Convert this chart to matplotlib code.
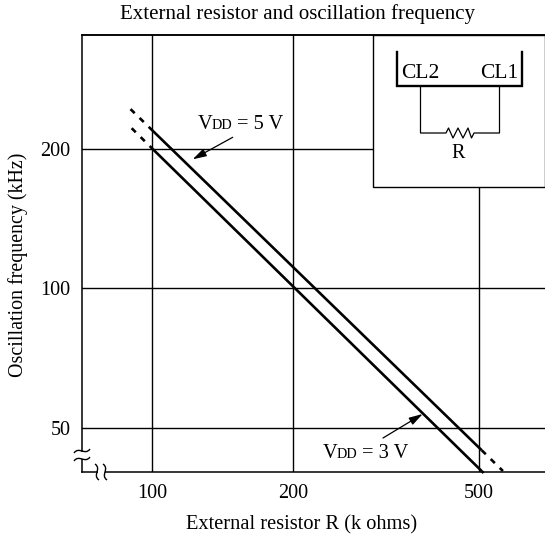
import matplotlib
matplotlib.use('Agg')
import matplotlib.pyplot as plt
from matplotlib.path import Path
from matplotlib.patches import PathPatch, Rectangle

plt.rcParams['font.family'] = ['Liberation Serif', 'DejaVu Serif']

# values (log-log)
x_ticks = [100, 200, 500]
y_ticks = [50, 100, 200]
r_5v = [100.3, 507]
f_5v = [219, 44.8]
r_5v_dash1 = [90, 100.3]
f_5v_dash1 = [243.6, 219]
r_5v_dash2 = [507, 563]
f_5v_dash2 = [44.8, 40.4]
r_3v = [100.3, 507]
f_3v = [200, 40.4]
r_3v_dash1 = [90.5, 100.3]
f_3v_dash1 = [221.6, 200]
r_3v_dash2 = [507, 512]
f_3v_dash2 = [40.4, 40.0]

W = 545
fig = plt.figure(figsize=(5.45, 5.45), dpi=100)
ax = fig.add_axes([81.5 / W, 1 - 472 / W, (W - 81.5) / W, (472 - 35) / W])
ax.set_xscale('log')
ax.set_yscale('log')
ax.set_xlim(70.7, 692.6)
ax.set_ylim(40.2, 352)
ax.spines['right'].set_visible(False)
for s in ['left', 'top', 'bottom']:
    ax.spines[s].set_linewidth(1.1)

ax.set_xticks(x_ticks)
ax.set_xticklabels([str(v) for v in x_ticks], fontsize=14.5)
ax.set_yticks(y_ticks)
ax.set_yticklabels([str(v) for v in y_ticks], fontsize=14.5)
ax.minorticks_off()
ax.tick_params(length=0, pad=9)
ax.tick_params(axis='y', pad=8)
ax.grid(True, color='black', linewidth=1.0)
ax.set_axisbelow(True)

ax.plot(r_5v, f_5v, color='black', lw=1.9, solid_capstyle='butt')
ax.plot(r_3v, f_3v, color='black', lw=1.9, solid_capstyle='butt')
for rr, ff in [(r_5v_dash1, f_5v_dash1), (r_3v_dash1, f_3v_dash1),
               (r_5v_dash2, f_5v_dash2), (r_3v_dash2, f_3v_dash2)]:
    ax.plot(rr, ff, color='black', lw=1.9, dashes=(2.2, 2.6), clip_on=False)

# overlay in pixel coordinates for the inset and the notes
ov = fig.add_axes([0, 0, 1, 1], facecolor='none')
ov.set_xlim(0, W)
ov.set_ylim(W, 0)
ov.axis('off')

ov.text(297, 14, 'External resistor and oscillation frequency', fontsize=15,
        ha='center', va='center')
ov.text(302, 525, 'External resistor R (k ohms)', fontsize=14.7, ha='center', va='center')
ov.text(18, 264.5, 'Oscillation frequency (kHz)', fontsize=14.4, rotation=90,
        ha='center', va='center')

# inset box
ov.add_patch(Rectangle((373, 35), W - 373, 151.5, fc='white', ec='black', lw=1.0))
ov.plot([81.5, W], [35, 35], color='black', lw=1.1)
ov.plot([397, 397, 522, 522], [52, 86, 86, 52], color='black', lw=1.7,
        solid_joinstyle='miter')
ov.plot([420.5, 420.5, 446, 448.5, 453, 458, 463, 468, 471.5, 474, 499.5, 499.5],
        [86, 133, 133, 128, 138, 128, 138, 128, 138, 133, 133, 86], color='black', lw=0.9)
ov.text(420, 73, 'CL2', fontsize=15.5, ha='center', va='center')
ov.text(499, 73, 'CL1', fontsize=15.5, ha='center', va='center')
ov.text(458, 154, 'R', fontsize=14.5, ha='center', va='center')


def vdd(x, y, volt):
    ov.text(x, y, 'V', fontsize=14.7, ha='left', va='baseline')
    ov.text(x + 14, y, 'DD', fontsize=10.2, ha='left', va='baseline')
    ov.text(x + 39, y, '= %s V' % volt, fontsize=14.7, ha='left', va='baseline')


vdd(198, 129, '5')
vdd(323, 458, '3')
arrow = dict(arrowstyle='-|>,head_length=0.75,head_width=0.22', color='black', lw=0.9,
             mutation_scale=11, shrinkA=0, shrinkB=0)
ov.annotate('', xy=(192.7, 159.3), xytext=(232.7, 137.3), arrowprops=arrow)
ov.annotate('', xy=(422.7, 414), xytext=(383, 438), arrowprops=arrow)

# axis break marks
ov.add_patch(Rectangle((78, 452), 8, 7, fc='white', ec='none'))
ov.add_patch(Rectangle((98, 469), 7, 6, fc='white', ec='none'))
for y0 in [451, 459]:
    verts = [(74, y0 + 2), (79, y0 - 5), (85, y0 + 5), (90, y0 - 2)]
    ov.add_patch(PathPatch(Path(verts, [Path.MOVETO, Path.CURVE4, Path.CURVE4, Path.CURVE4]),
                           fc='none', ec='black', lw=1.0))
for x0 in [97, 105]:
    verts = [(x0 - 2, 464), (x0 + 5, 469), (x0 - 5, 475), (x0 + 2, 480)]
    ov.add_patch(PathPatch(Path(verts, [Path.MOVETO, Path.CURVE4, Path.CURVE4, Path.CURVE4]),
                           fc='none', ec='black', lw=1.0))

fig.savefig('out.png', dpi=100)
